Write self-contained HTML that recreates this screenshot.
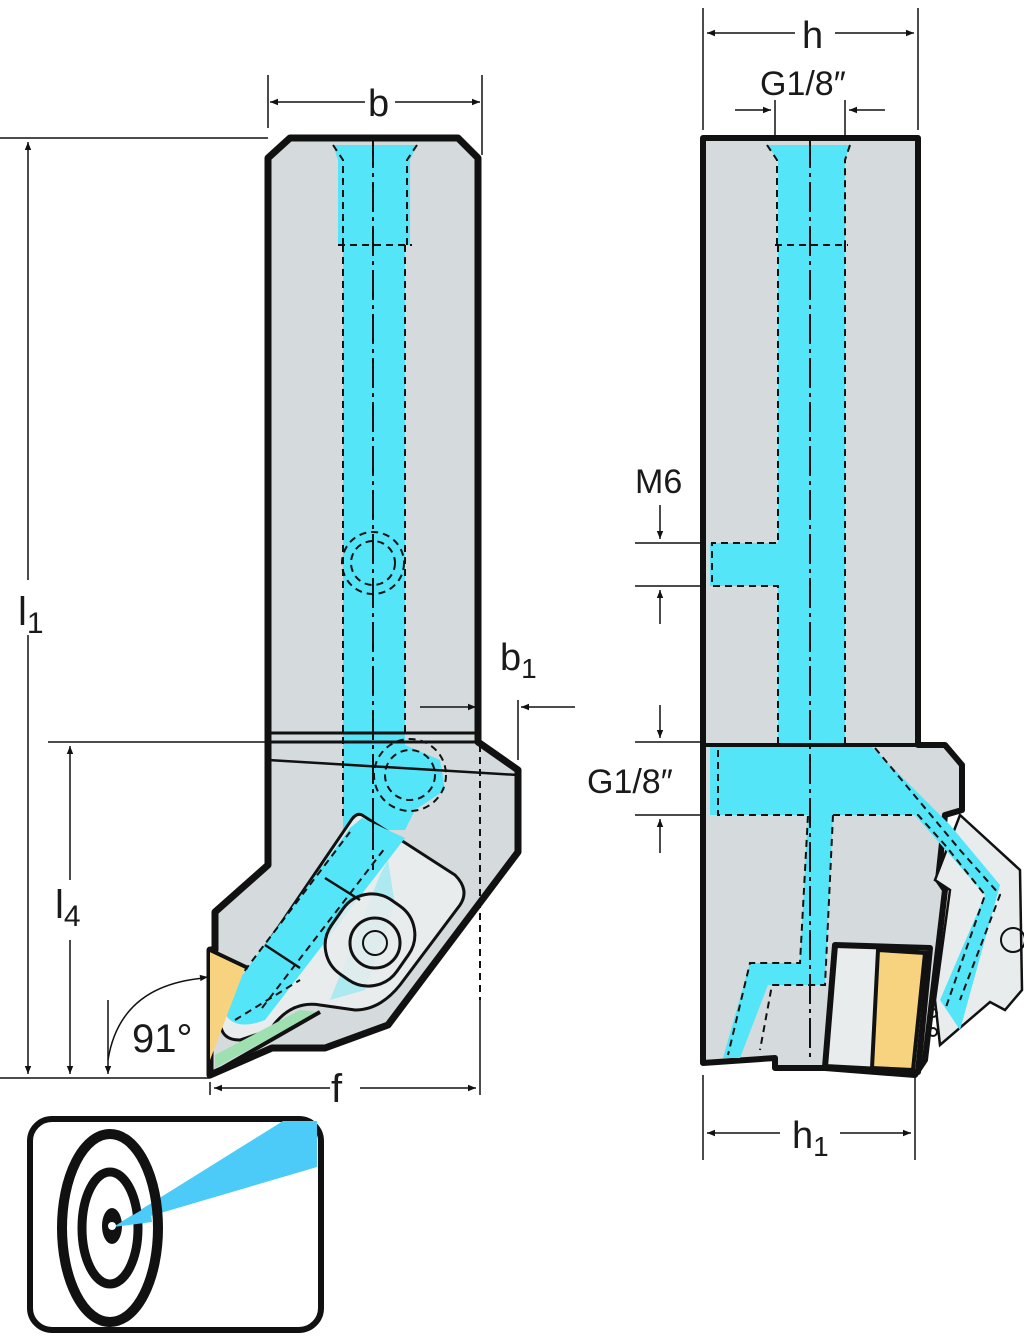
<!DOCTYPE html>
<html><head><meta charset="utf-8"><style>
html,body{margin:0;padding:0;background:#fff;}
svg{display:block;}
text{font-family:"Liberation Sans",sans-serif;fill:#1a1a1a;}
</style></head><body>
<svg width="1024" height="1337" viewBox="0 0 1024 1337" xmlns="http://www.w3.org/2000/svg">
<defs>
<marker id="a" viewBox="0 0 10 10" refX="10" refY="5" markerWidth="10" markerHeight="8" orient="auto-start-reverse" markerUnits="userSpaceOnUse"><path d="M0,1 L10,5 L0,9 z" fill="#111"/></marker>
</defs>
<g stroke="#111" stroke-width="1.5" fill="none">
<!-- LEFT VIEW body -->
<path d="M268,158 L290,138 L458,138 L478,158 L478,742 L518,770 L518,852 L388,1025 L325,1048 L272,1048 L210,1075 L210,950 L215,950 L215,912 L268,865 Z" fill="#d5dadc" stroke-width="7" stroke-linejoin="round"/>
<!-- coolant channel -->
<path d="M333,145 L417,145 L410,160 L410,245 L405,245 L405,745 L440,760 L445,790 L415,810 L405,830 L343,830 L343,245 L338,245 L338,160 Z" fill="#55e5f9" stroke="none"/>
<g stroke-dasharray="7,5" stroke-width="2">
<path d="M333,145 L343,160 L343,245 M417,145 L407,160 L407,245 M338,245 L412,245 M343,245 L343,820 M405,245 L405,735 M480,745 L480,1000"/>
<circle cx="373" cy="563" r="31"/><circle cx="373" cy="563" r="22"/>
<circle cx="410" cy="775" r="36"/><circle cx="410" cy="775" r="25"/>
</g>
<line x1="373" y1="138" x2="373" y2="870" stroke-dasharray="30,5,4,5" stroke-width="2"/>
<line x1="268" y1="733" x2="478" y2="733" stroke-width="3"/>
<line x1="268" y1="742" x2="478" y2="742" stroke-width="3"/>
<line x1="268" y1="760" x2="518" y2="775" stroke-width="2.5"/>
<!-- clamp -->
<path d="M362,815 L455,875 Q470,890 460,905 L400,985 Q380,1010 355,1010 L320,1005 Q290,1000 270,1030 L240,1040 Q215,1040 222,1010 L350,822 Q356,812 362,815 Z" fill="#e8ecec" stroke-width="3"/>
<path d="M362,818 L405,838 L265,1020 Q240,1030 228,1018 Q220,1005 228,995 L350,828 Z" fill="#55e5f9" stroke="none"/>
<path d="M388,860 L395,905 L365,990 L330,1000 L380,875 Z" fill="#55e5f9" opacity="0.4" stroke="none"/>
<path d="M230,990 L350,832 M262,1008 L385,848 M235,1020 L300,980" stroke-dasharray="7,5" stroke-width="2"/>
<line x1="373" y1="820" x2="373" y2="870" stroke-dasharray="30,5,4,5" stroke-width="2"/>
<rect x="330" y="895" width="80" height="90" rx="35" transform="rotate(35 370 940)" fill="#e8ecec" stroke-width="3" fill-opacity="0.85"/>
<circle cx="375" cy="943" r="25" stroke-width="3"/>
<circle cx="375" cy="943" r="12" stroke-width="2"/>
<path d="M325,878 L360,900 M265,945 L300,968" stroke-width="2.5"/>
<!-- insert -->
<path d="M210,950 L245,968 L210,1060 Z" fill="#f8d37f" stroke="none"/>
<path d="M215,1055 L300,1010 L318,1012 L215,1068 Z" fill="#9fe0b0" stroke="none"/>
<path d="M210,950 L248,968 M210,1075 L320,1012" stroke-width="4"/>
<!-- dims left -->
<path d="M268,128 L268,75 M482,75 L482,155" />
<line x1="365" y1="102" x2="270" y2="102" marker-end="url(#a)"/>
<line x1="395" y1="102" x2="480" y2="102" marker-end="url(#a)"/>
<line x1="0" y1="138" x2="268" y2="138"/>
<line x1="28" y1="580" x2="28" y2="142" marker-end="url(#a)"/>
<line x1="28" y1="635" x2="28" y2="1074" marker-end="url(#a)"/>
<line x1="0" y1="1078" x2="210" y2="1078"/>
<line x1="48" y1="742" x2="268" y2="742"/>
<line x1="70" y1="880" x2="70" y2="746" marker-end="url(#a)"/>
<line x1="70" y1="940" x2="70" y2="1074" marker-end="url(#a)"/>
<line x1="108" y1="1000" x2="108" y2="1074" marker-end="url(#a)"/>
<path d="M108,1060 Q120,985 205,978" />
<line x1="200" y1="978" x2="208" y2="977" marker-end="url(#a)"/>
<path d="M210,1082 L210,1095 M480,1000 L480,1095 M518,700 L518,760"/>
<line x1="330" y1="1088" x2="214" y2="1088" marker-end="url(#a)"/>
<line x1="360" y1="1088" x2="476" y2="1088" marker-end="url(#a)"/>
<line x1="420" y1="707" x2="476" y2="707" marker-end="url(#a)"/>
<line x1="575" y1="707" x2="521" y2="707" marker-end="url(#a)"/>
</g>
<text x="368" y="116" font-size="38">b</text>
<text x="18" y="625" font-size="40">l<tspan font-size="30" dy="8">1</tspan></text>
<text x="55" y="918" font-size="40">l<tspan font-size="30" dy="8">4</tspan></text>
<text x="132" y="1052" font-size="40">91°</text>
<text x="331" y="1102" font-size="40">f</text>
<text x="500" y="670" font-size="38">b<tspan font-size="28" dy="8">1</tspan></text>

<!-- RIGHT VIEW -->
<g stroke="#111" stroke-width="1.5" fill="none">
<path d="M703,138 L918,138 L918,745 L945,745 L962,765 L962,810 L945,815 L938,880 L945,890 L925,1060 L915,1075 L825,1068 L775,1068 L775,1058 L703,1063 Z" fill="#d5dadc" stroke-width="6" stroke-linejoin="round"/>
<path d="M960,815 L1020,870 L1022,990 L1005,1010 L990,1002 L940,1045 L935,1000 L950,890 L935,880 Z" fill="#e8ecec" stroke-width="2.5"/>
<path d="M767,145 L850,145 L845,160 L845,745 L870,745 L950,825 L1000,885 L960,1030 L940,1000 L985,895 L915,815 L833,815 L825,985 L768,985 L740,1058 L723,1058 L750,963 L800,963 L808,815 L710,815 L710,745 L778,745 L778,160 Z" fill="#55e5f9" stroke="none"/>
<rect x="710" y="543" width="70" height="43" fill="#55e5f9" stroke="none"/>
<g stroke-dasharray="7,5" stroke-width="2">
<path d="M767,145 L777,160 L777,245 M850,145 L845,160 L845,245 M775,245 L848,245 M778,245 L778,543 L712,543 L712,586 L778,586 L778,745 M845,245 L845,745"/>
<path d="M718,750 L718,815 L808,815 L800,963 L750,963 L728,1055 M833,815 L918,815 L945,845 L985,895 L945,1010 M875,748 L960,850 L1000,895 L960,1000"/>
<path d="M833,815 L825,985 L772,985 L760,1050"/>
</g>
<line x1="810" y1="138" x2="810" y2="1060" stroke-dasharray="30,5,4,5" stroke-width="2"/>
<line x1="703" y1="745" x2="918" y2="745" stroke-width="4"/>
<path d="M835,945 L930,948 L918,1072 L825,1067 Z" fill="#e8ecec" stroke-width="6" stroke-linejoin="round"/>
<path d="M878,950 L925,953 L913,1070 L872,1068 Z" fill="#f8d37f" stroke-width="4"/>
<circle cx="1013" cy="940" r="12" stroke-width="2"/>
<circle cx="933" cy="1013" r="4" stroke-width="2"/><circle cx="933" cy="1032" r="4" stroke-width="2"/>
<!-- dims right -->
<path d="M703,8 L703,130 M918,8 L918,130 M775,100 L775,138 M845,100 L845,138 M703,1075 L703,1160 M915,1075 L915,1160"/>
<line x1="795" y1="33" x2="707" y2="33" marker-end="url(#a)"/>
<line x1="835" y1="33" x2="914" y2="33" marker-end="url(#a)"/>
<line x1="735" y1="110" x2="771" y2="110" marker-end="url(#a)"/>
<line x1="885" y1="110" x2="849" y2="110" marker-end="url(#a)"/>
<line x1="780" y1="1133" x2="707" y2="1133" marker-end="url(#a)"/>
<line x1="840" y1="1133" x2="911" y2="1133" marker-end="url(#a)"/>
<path d="M635,543 L703,543 M635,586 L703,586 M635,742 L703,742 M635,815 L703,815"/>
<line x1="660" y1="505" x2="660" y2="539" marker-end="url(#a)"/>
<line x1="660" y1="624" x2="660" y2="590" marker-end="url(#a)"/>
<line x1="660" y1="705" x2="660" y2="738" marker-end="url(#a)"/>
<line x1="660" y1="853" x2="660" y2="819" marker-end="url(#a)"/>
</g>
<text x="802" y="48" font-size="38">h</text>
<text x="760" y="95" font-size="34">G1/8″</text>
<text x="635" y="493" font-size="34">M6</text>
<text x="587" y="793" font-size="34">G1/8″</text>
<text x="792" y="1148" font-size="38">h<tspan font-size="28" dy="8">1</tspan></text>

<!-- icon -->
<rect x="30" y="1119" width="291" height="211" rx="22" fill="#fff" stroke="#111" stroke-width="6"/>
<path d="M113,1227 L283,1121 L317,1121 L317,1167 Z" fill="#4ccbf8"/>
<ellipse cx="110" cy="1228" rx="48" ry="94" fill="none" stroke="#111" stroke-width="10"/>
<ellipse cx="110" cy="1228" rx="28" ry="56" fill="none" stroke="#111" stroke-width="9"/>
<ellipse cx="112" cy="1226" rx="10" ry="18" fill="#111"/>
<path d="M113,1227 L150,1205 L152,1222 Z" fill="#4ccbf8"/>
<circle cx="112" cy="1226" r="4" fill="#fff"/>
</svg>
</body></html>
